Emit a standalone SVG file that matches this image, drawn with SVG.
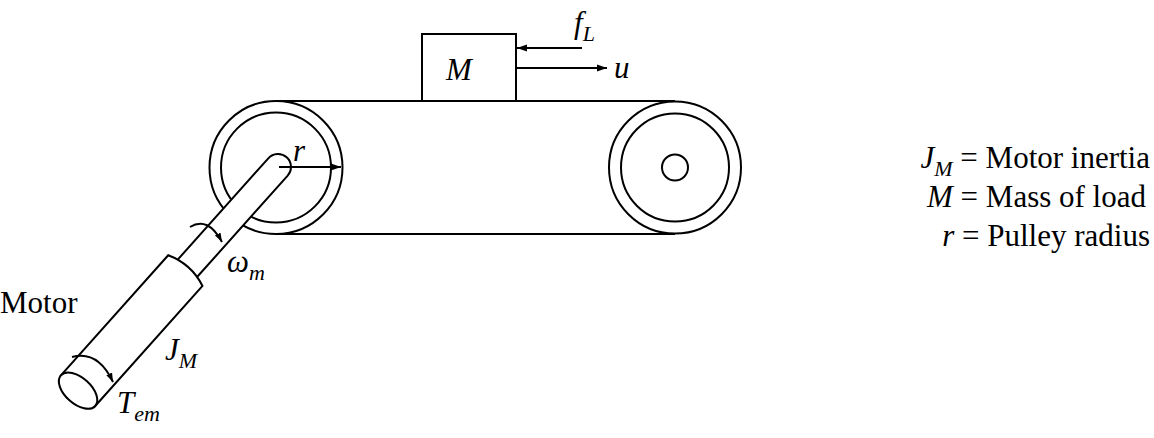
<svg xmlns="http://www.w3.org/2000/svg" width="1154" height="438" viewBox="0 0 1154 438">
<style>
.s{fill:none;stroke:#000;stroke-width:2}
.w{fill:#fff;stroke:#000;stroke-width:2}
text{font-family:'Liberation Serif','DejaVu Serif','Times New Roman',serif;font-size:31px;fill:#000}
.i{font-style:italic}
.sub{font-size:22px}
</style>
<defs><marker id="a" viewBox="0 0 10 10" refX="10" refY="5" markerWidth="9" markerHeight="9" markerUnits="userSpaceOnUse" orient="auto"><path d="M0,1.5L10,5L0,8.5z"/></marker>
<marker id="b" viewBox="0 0 10 10" refX="10" refY="5" markerWidth="18" markerHeight="10" markerUnits="userSpaceOnUse" orient="auto"><path d="M0,1.5L10,5L0,8.5z"/></marker></defs>
<g id="belt"><line class="s" x1="276" y1="101" x2="675" y2="101"/><line class="s" x1="276" y1="234" x2="675" y2="234"/></g>
<g id="pulleyL"><circle class="w" cx="276" cy="167.5" r="66.5"/><circle class="s" cx="276" cy="167.5" r="55"/></g>
<g id="pulleyR"><circle class="w" cx="675" cy="167.5" r="66"/><circle class="s" cx="675" cy="167.5" r="54"/><circle class="s" cx="675" cy="167.5" r="13"/></g>
<g id="mass"><rect class="w" x="422" y="34" width="94" height="67"/><text class="i" x="446" y="80">M</text></g>
<g id="motor" transform="translate(278,167) rotate(131.8)">
<path class="w" d="M0,-13 L139,-13 L139,13 L0,13 A13,13 0 0 1 0,-13 z"/>
<path class="w" d="M139,-23 Q130,0 139,23 L300,23 L300,-23 z"/>
<ellipse class="w" cx="300" cy="0" rx="13" ry="23"/>
</g>
<g id="connectors">
<line class="s" x1="279" y1="167" x2="341" y2="167" marker-end="url(#b)"/>
<line class="s" x1="582" y1="48" x2="517" y2="48" marker-end="url(#b)"/>
<line class="s" x1="516" y1="68" x2="607" y2="68" marker-end="url(#b)"/>
<path class="s" d="M190,227 Q208,216 222,242" marker-end="url(#a)"/>
<path class="s" d="M72,357 Q98,350 113,382" marker-end="url(#a)"/>
</g>
<g id="labels">
<text class="i" x="293" y="161">r</text>
<text class="i" x="574" y="33">f<tspan class="sub" dy="8">L</tspan></text>
<text class="i" x="614" y="78">u</text>
<text x="0" y="313">Motor</text>
<text class="i" x="227" y="272">ω<tspan class="sub" dy="8">m</tspan></text>
<text class="i" x="165" y="360">J<tspan class="sub" dy="8">M</tspan></text>
<text class="i" x="117" y="413">T<tspan class="sub" dy="8">em</tspan></text>
<text x="1150" y="168" text-anchor="end"><tspan class="i">J</tspan><tspan class="i sub" dy="8">M</tspan><tspan dy="-8"> = Motor inertia</tspan></text>
<text x="1146" y="207" text-anchor="end"><tspan class="i">M</tspan> = Mass of load</text>
<text x="1150" y="246" text-anchor="end"><tspan class="i">r</tspan> = Pulley radius</text>
</g>
</svg>
